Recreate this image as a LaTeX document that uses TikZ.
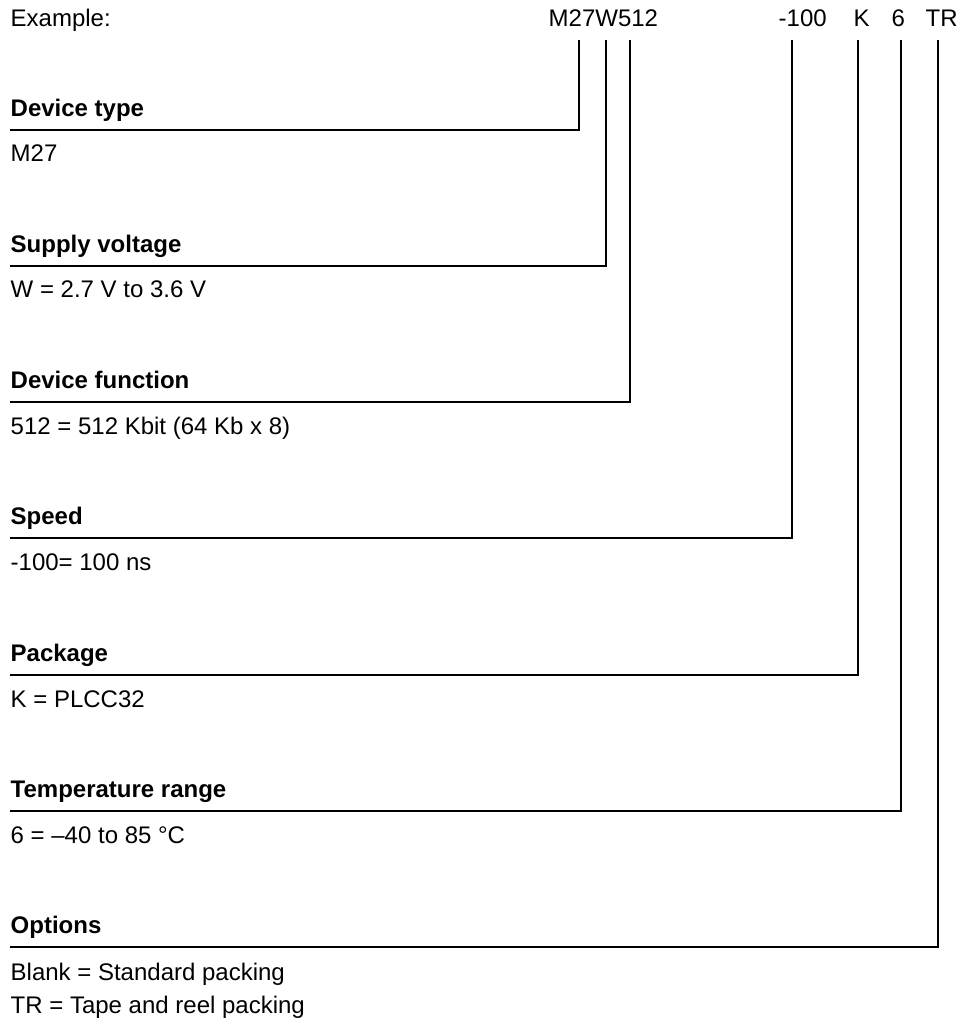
\documentclass[tikz,border=0pt]{standalone}
\usepackage{fontspec}
\setmainfont{Liberation Sans}
\begin{document}
\begin{tikzpicture}[x=0.5pt, y=-0.5pt, line width=0.7pt,
  txt/.style={anchor=base west, inner sep=0pt, font=\fontsize{12}{14}\selectfont},
  head/.style={txt, font=\fontsize{12}{14}\selectfont\bfseries}]
\useasboundingbox (0,0) rectangle (963,1031);
% code of the example
\node[txt] (ex) at (10,27) {Example:};
\node[txt] (cdev) at (548,27) {M27W512};
\node[txt] (cspd) at (778,27) {-100};
\node[txt] (cpkg) at (853,27) {K};
\node[txt] (ctmp) at (891,27) {6};
\node[txt] (copt) at (925,27) {TR};
% tops of the leader lines
\coordinate (t1) at (579,40);
\coordinate (t2) at (606,40);
\coordinate (t3) at (630,40);
\coordinate (t4) at (792,40);
\coordinate (t5) at (858,40);
\coordinate (t6) at (901,40);
\coordinate (t7) at (938,40);
% fields
\coordinate (h1) at (10,130);
\node[head] (hd1) at (10,116.5) {Device type};
\node[txt] (vl1) at (10,162) {M27};
\draw (h1) -| (t1);
\coordinate (h2) at (10,266);
\node[head] (hd2) at (10,252.5) {Supply voltage};
\node[txt] (vl2) at (10,298) {W = 2.7 V to 3.6 V};
\draw (h2) -| (t2);
\coordinate (h3) at (10,402);
\node[head] (hd3) at (10,388.5) {Device function};
\node[txt] (vl3) at (10,434) {512 = 512 Kbit (64 Kb x 8)};
\draw (h3) -| (t3);
\coordinate (h4) at (10,538);
\node[head] (hd4) at (10,524.5) {Speed};
\node[txt] (vl4) at (10,570) {-100= 100 ns};
\draw (h4) -| (t4);
\coordinate (h5) at (10,675);
\node[head] (hd5) at (10,661.5) {Package};
\node[txt] (vl5) at (10,707) {K = PLCC32};
\draw (h5) -| (t5);
\coordinate (h6) at (10,811);
\node[head] (hd6) at (10,797.5) {Temperature range};
\node[txt] (vl6) at (10,843) {6 = –40 to 85 °C};
\draw (h6) -| (t6);
\coordinate (h7) at (10,947);
\node[head] (hd7) at (10,933.5) {Options};
\node[txt] (vl7) at (10,980) {Blank = Standard packing};
\node[txt] (vl8) at (10,1013) {TR = Tape and reel packing};
\draw (h7) -| (t7);
\end{tikzpicture}
\end{document}
